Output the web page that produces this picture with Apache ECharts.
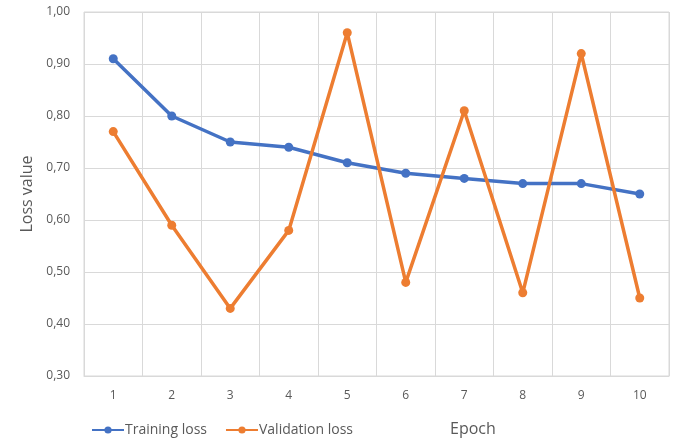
<!DOCTYPE html>
<html>
<head>
<meta charset="utf-8">
<script src="https://cdn.jsdelivr.net/npm/echarts@6/dist/echarts.min.js"></script>
<style>
  html, body { margin: 0; padding: 0; background: #fff; }
  #main { width: 674px; height: 442px; }
</style>
</head>
<body>
<div id="main"></div>
<script>
const epochs = ['1', '2', '3', '4', '5', '6', '7', '8', '9', '10'];
const trainingLoss = [0.91, 0.80, 0.75, 0.74, 0.71, 0.69, 0.68, 0.67, 0.67, 0.65];
const validationLoss = [0.77, 0.59, 0.43, 0.58, 0.96, 0.48, 0.81, 0.46, 0.92, 0.45];

const font = '"Open Sans", sans-serif';
const gridColor = '#d9d9d9';
const textColor = '#595959';

const chart = echarts.init(document.getElementById('main'));

chart.setOption({
  animation: false,
  textStyle: { fontFamily: font },
  grid: {
    left: 84,
    right: 5,
    top: 12,
    bottom: 66,
    show: true,
    borderColor: gridColor,
    borderWidth: 1,
  },
  legend: {
    left: 86,
    bottom: 0,
    itemWidth: 32,
    itemHeight: 9,
    itemGap: 18,
    textStyle: {
      color: textColor,
      fontSize: 14,
      fontFamily: font,
      padding: [0, 0, 0, -4],
    },
    data: ['Training loss', 'Validation loss'],
  },
  xAxis: {
    type: 'category',
    data: epochs,
    boundaryGap: true,
    axisLine: { lineStyle: { color: gridColor } },
    axisTick: { show: false },
    axisLabel: { color: textColor, fontSize: 12, margin: 14 },
    splitLine: { show: true, lineStyle: { color: gridColor } },
  },
  yAxis: {
    type: 'value',
    min: 0.3,
    max: 1.0,
    interval: 0.1,
    name: 'Loss value',
    nameLocation: 'middle',
    nameGap: 46,
    nameTextStyle: { color: textColor, fontSize: 16, fontFamily: font },
    axisLine: { show: false },
    axisTick: { show: false },
    axisLabel: {
      color: textColor,
      fontSize: 12,
      margin: 14,
      formatter: (v) => v.toFixed(2).replace('.', ','),
    },
    splitLine: { lineStyle: { color: gridColor } },
  },
  graphic: [
    {
      type: 'text',
      left: 450,
      top: 421,
      style: { text: 'Epoch', fill: textColor, fontSize: 16, fontFamily: font },
    },
  ],
  series: [
    {
      name: 'Training loss',
      type: 'line',
      data: trainingLoss,
      color: '#4472C4',
      symbol: 'circle',
      symbolSize: 9,
      lineStyle: { width: 3.5 },
    },
    {
      name: 'Validation loss',
      type: 'line',
      data: validationLoss,
      color: '#ED7D31',
      symbol: 'circle',
      symbolSize: 9,
      lineStyle: { width: 3.5 },
    },
  ],
});
</script>
</body>
</html>
